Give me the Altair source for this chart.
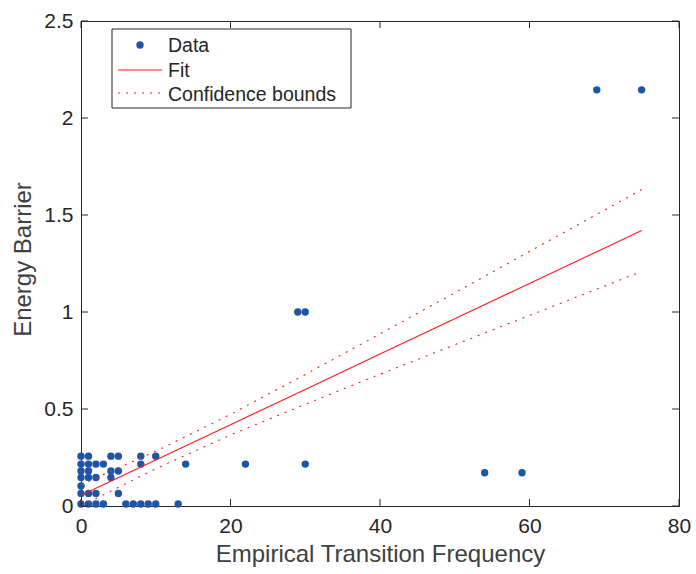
import altair as alt
import pandas as pd

# ---- data ----
data_x = [0, 0, 0, 0, 0, 0, 0,
          1, 1, 1, 1, 1, 1,
          2, 2, 2, 2,
          3, 3,
          4, 4, 4,
          5, 5, 5,
          6, 7, 8, 8, 8, 9, 10, 10, 13, 14,
          22, 30, 29, 30, 54, 59, 69, 75]
data_y = [0.01, 0.065, 0.103, 0.147, 0.18, 0.216, 0.257,
          0.01, 0.065, 0.147, 0.18, 0.216, 0.257,
          0.01, 0.065, 0.147, 0.216,
          0.01, 0.216,
          0.147, 0.18, 0.257,
          0.065, 0.18, 0.257,
          0.01, 0.01, 0.01, 0.216, 0.257, 0.01, 0.01, 0.257, 0.01, 0.216,
          0.216, 0.216, 1.0, 1.0, 0.171, 0.171, 2.145, 2.145]

curve_x = [0, 10, 20, 30, 40, 50, 60, 70, 75]
fit_y = [0.055, 0.237, 0.419, 0.601, 0.783, 0.965, 1.147, 1.329, 1.42]
upper_y = [0.11, 0.282, 0.472, 0.678, 0.887, 1.099, 1.312, 1.525, 1.631]
lower_y = [0.0, 0.192, 0.366, 0.524, 0.679, 0.831, 0.982, 1.133, 1.209]

x_ticks = [0, 20, 40, 60, 80]
y_ticks = [0, 0.5, 1, 1.5, 2, 2.5]
legend_labels = ["Data", "Fit", "Confidence bounds"]

# ---- styling ----
FONT = "Liberation Sans"
BLUE = "#1f55a5"
RED = "#ff1a1a"
AX = "#262626"
W, H = 598, 485
DASH = [2, 6]

pts = pd.DataFrame({"x": data_x, "y": data_y})
curves = pd.DataFrame({"x": curve_x, "fit": fit_y, "upper": upper_y, "lower": lower_y})
xt = pd.DataFrame({"x": x_ticks})
yt = pd.DataFrame({"y": y_ticks})
one = pd.DataFrame({"k": [0]})

xscale = alt.Scale(domain=[0, 80], nice=False, zero=False)
yscale = alt.Scale(domain=[0, 2.5], nice=False, zero=False)

x_axis = alt.Axis(values=x_ticks, ticks=False, domain=False, grid=False,
                  labelFlush=False, labelOverlap=False,
                  labelFontSize=21, labelColor=AX, labelPadding=9, labelFont=FONT,
                  title="Empirical Transition Frequency", titleFont=FONT,
                  titleFontSize=24, titleFontWeight="normal", titleColor="#404040",
                  titleX=W / 2, titleY=55, titleAlign="center", titleBaseline="alphabetic")
y_axis = alt.Axis(values=y_ticks, ticks=False, domain=False, grid=False, format="~g",
                  labelFlush=False, labelOverlap=False,
                  labelFontSize=21, labelColor=AX, labelPadding=8, labelFont=FONT,
                  title="Energy Barrier", titleFont=FONT,
                  titleFontSize=24, titleFontWeight="normal", titleColor="#404040",
                  titleX=-51, titleY=238, titleAlign="center", titleAngle=270,
                  titleBaseline="alphabetic")

X = lambda f: alt.X(f, type="quantitative", scale=xscale, axis=x_axis)
Y = lambda f: alt.Y(f, type="quantitative", scale=yscale, axis=y_axis)

points = alt.Chart(pts).mark_circle(size=55, color=BLUE, opacity=1).encode(x=X("x"), y=Y("y"))
fit = alt.Chart(curves).mark_line(color=RED, strokeWidth=1.1).encode(x=X("x"), y=Y("fit"))
up = alt.Chart(curves).mark_line(color=RED, strokeWidth=1.1, strokeDash=DASH).encode(x=X("x"), y=Y("upper"))
lo = alt.Chart(curves).mark_line(color=RED, strokeWidth=1.1, strokeDash=DASH).encode(x=X("x"), y=Y("lower"))

# inward ticks on all four sides
tb = alt.Chart(xt).mark_rule(color=AX, strokeWidth=1).encode(x=X("x"), y=alt.datum(0), y2=alt.value(H - 7))
tt = alt.Chart(xt).mark_rule(color=AX, strokeWidth=1).encode(x=X("x"), y=alt.datum(2.5), y2=alt.value(7))
tl = alt.Chart(yt).mark_rule(color=AX, strokeWidth=1).encode(y=Y("y"), x=alt.datum(0), x2=alt.value(7))
tr = alt.Chart(yt).mark_rule(color=AX, strokeWidth=1).encode(y=Y("y"), x=alt.datum(80), x2=alt.value(W - 7))

# legend
lbox = alt.Chart(one).mark_rect(fill="white", stroke=AX, strokeWidth=1).encode(
    x=alt.value(31), x2=alt.value(270), y=alt.value(8), y2=alt.value(87))
ldot = alt.Chart(one).mark_circle(size=55, color=BLUE, opacity=1).encode(
    x=alt.value(59), y=alt.value(24))
lfit = alt.Chart(one).mark_rule(color=RED, strokeWidth=1.1).encode(
    x=alt.value(37), x2=alt.value(81), y=alt.value(49))
lconf = alt.Chart(one).mark_rule(color=RED, strokeWidth=1.1, strokeDash=DASH).encode(
    x=alt.value(37), x2=alt.value(81), y=alt.value(72))
ltexts = [
    alt.Chart(one).mark_text(align="left", baseline="alphabetic", font=FONT,
                             fontSize=19.5, color="#262626").encode(
        x=alt.value(87), y=alt.value(yy), text=alt.value(lab))
    for lab, yy in zip(legend_labels, [30.7, 55.7, 79.7])
]

chart = alt.layer(points, fit, up, lo, tb, tt, tl, tr, lbox, ldot, lfit, lconf, *ltexts).properties(
    width=W, height=H,
    padding={"left": 81, "top": 21, "right": 17, "bottom": 68},
    autosize=alt.AutoSizeParams(type="none"),
    background="white",
).configure_view(stroke=AX, strokeWidth=1)

chart.save("out.html", embed_options={"renderer": "svg", "actions": False})
